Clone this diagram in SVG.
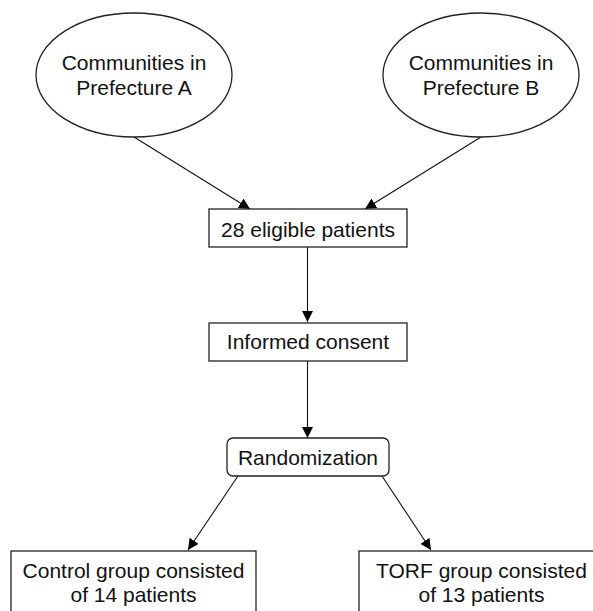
<svg xmlns="http://www.w3.org/2000/svg" width="593" height="611" viewBox="0 0 593 611">
<style>
.shape{fill:#fff;stroke:#222;stroke-width:1.3}
.lbl{font-family:"Liberation Sans",Arial,sans-serif;font-size:21px;fill:#111;text-anchor:middle}
.conn{stroke:#111;stroke-width:1.1;fill:none;marker-end:url(#ah)}
</style>
<defs>
<marker id="ah" markerUnits="userSpaceOnUse" markerWidth="11" markerHeight="11" viewBox="0 0 11 11" refX="11" refY="5.5" orient="auto">
<path d="M0,0 L11,5.5 L0,11 z" fill="#000"/>
</marker>
</defs>
<rect width="593" height="611" fill="#fff"/>
<g id="connectors">
<line class="conn" x1="134" y1="137" x2="250" y2="209"/>
<line class="conn" x1="481" y1="137" x2="365" y2="209"/>
<line class="conn" x1="307.5" y1="247" x2="307.5" y2="322"/>
<line class="conn" x1="307.5" y1="361" x2="307.5" y2="438"/>
<line class="conn" x1="238" y1="476" x2="188" y2="550"/>
<line class="conn" x1="382" y1="476" x2="431" y2="550"/>
</g>
<g id="prefA">
<ellipse class="shape" cx="134" cy="75" rx="98" ry="62"/>
<text class="lbl" x="134" y="70">Communities in</text>
<text class="lbl" x="134" y="95">Prefecture A</text>
</g>
<g id="prefB">
<ellipse class="shape" cx="481" cy="75" rx="98" ry="62"/>
<text class="lbl" x="481" y="70">Communities in</text>
<text class="lbl" x="481" y="95">Prefecture B</text>
</g>
<g id="eligible">
<rect class="shape" x="209" y="209" width="198" height="38"/>
<text class="lbl" x="308" y="237">28 eligible patients</text>
</g>
<g id="consent">
<rect class="shape" x="209" y="323" width="198" height="38"/>
<text class="lbl" x="308" y="349">Informed consent</text>
</g>
<g id="random">
<rect class="shape" x="227" y="438" width="162" height="38" rx="6" ry="6"/>
<text class="lbl" x="308" y="465">Randomization</text>
</g>
<g id="control">
<rect class="shape" x="11" y="551" width="245" height="75"/>
<text class="lbl" x="133.5" y="578">Control group consisted</text>
<text class="lbl" x="133.5" y="602">of 14 patients</text>
</g>
<g id="torf">
<rect class="shape" x="359" y="551" width="245" height="75"/>
<text class="lbl" x="481.5" y="578">TORF group consisted</text>
<text class="lbl" x="481.5" y="602">of 13 patients</text>
</g>
</svg>
